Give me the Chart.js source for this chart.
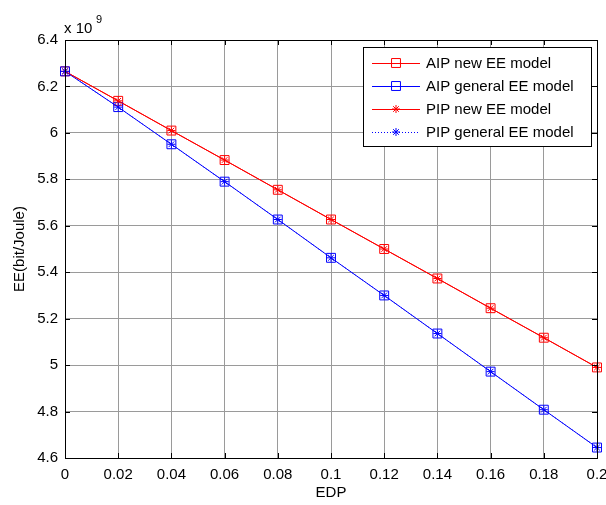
<!DOCTYPE html>
<html>
<head>
<meta charset="utf-8">
<script src="https://cdn.jsdelivr.net/npm/chart.js@4/dist/chart.umd.min.js"></script>
<style>
html,body{margin:0;padding:0;background:#fff;}
#wrap{width:606px;height:505px;position:relative;}
</style>
</head>
<body>
<div id="wrap"><canvas id="c" width="606" height="505"></canvas></div>
<script>
// ---- data ----
const edp = [0, 0.02, 0.04, 0.06, 0.08, 0.10, 0.12, 0.14, 0.16, 0.18, 0.20];
const aipNewEE = [6.265, 6.138, 6.010, 5.883, 5.755, 5.627, 5.500, 5.373, 5.245, 5.118, 4.990];
const aipGeneralEE = [6.265, 6.111, 5.951, 5.790, 5.627, 5.462, 5.300, 5.136, 4.972, 4.808, 4.645];
const pipNewEE = [6.265, 6.138, 6.010, 5.883, 5.755, 5.627, 5.500, 5.373, 5.245, 5.118, 4.990];
const pipGeneralEE = [6.265, 6.111, 5.951, 5.790, 5.627, 5.462, 5.300, 5.136, 4.972, 4.808, 4.645];
const seriesNames = ['AIP new EE model', 'AIP general EE model', 'PIP new EE model', 'PIP general EE model'];
const xTicks = [0, 0.02, 0.04, 0.06, 0.08, 0.1, 0.12, 0.14, 0.16, 0.18, 0.2];
const yTicks = [4.6, 4.8, 5.0, 5.2, 5.4, 5.6, 5.8, 6.0, 6.2, 6.4];
const xTitle = 'EDP';
const yTitle = 'EE(bit/Joule)';

const FONT = '"Liberation Sans", Arial, sans-serif';
const toPts = ys => edp.map((x, i) => ({x: x, y: ys[i]}));

const styles = [
  {color: '#ff0000', line: '#ff0000', ps: 'rect', r: 6.3, dash: []},
  {color: '#0000ff', line: '#0000ff', ps: 'rect', r: 6.3, dash: []},
  {color: '#ff0000', line: '#ff0000', ps: 'star', r: 4, dash: []},
  {color: '#0000ff', line: '#0000ff', ps: 'star', r: 4, dash: [1, 2]}
];
const allSeries = [aipNewEE, aipGeneralEE, pipNewEE, pipGeneralEE];

const datasets = allSeries.map((ys, i) => ({
  label: seriesNames[i],
  data: toPts(ys),
  showLine: true,
  borderColor: styles[i].line,
  borderWidth: 1,
  borderDash: styles[i].dash,
  pointStyle: styles[i].ps,
  pointRadius: styles[i].r,
  pointBorderColor: styles[i].color,
  pointBackgroundColor: 'rgba(0,0,0,0)',
  pointBorderWidth: 1,
  clip: false,
  order: 4 - i
}));

const framePlugin = {
  id: 'frame',
  afterDraw(chart) {
    const ctx = chart.ctx;
    const a = chart.chartArea;
    const xs = chart.scales.x, ys = chart.scales.y;
    ctx.save();
    // frame
    ctx.strokeStyle = '#000';
    ctx.lineWidth = 1;
    ctx.strokeRect(Math.round(a.left) + 0.5, Math.round(a.top) + 0.5, Math.round(a.right - a.left), Math.round(a.bottom - a.top));
    // inward ticks
    const tl = 5;
    ctx.beginPath();
    xTicks.forEach(v => {
      const px = Math.round(xs.getPixelForValue(v)) + 0.5;
      ctx.moveTo(px, a.bottom); ctx.lineTo(px, a.bottom - tl);
      ctx.moveTo(px, a.top); ctx.lineTo(px, a.top + tl);
    });
    yTicks.forEach(v => {
      const py = Math.round(ys.getPixelForValue(v)) + 0.5;
      ctx.moveTo(a.left, py); ctx.lineTo(a.left + tl, py);
      ctx.moveTo(a.right, py); ctx.lineTo(a.right - tl, py);
    });
    ctx.stroke();

    // titles
    ctx.fillStyle = '#000';
    ctx.font = '15px ' + FONT;
    ctx.textAlign = 'center';
    ctx.textBaseline = 'middle';
    ctx.fillText(xTitle, (a.left + a.right) / 2, 493);
    ctx.save();
    ctx.translate(20, (a.top + a.bottom) / 2);
    ctx.rotate(-Math.PI / 2);
    ctx.fillText(yTitle, 0, 0);
    ctx.restore();

    // exponent label
    ctx.textAlign = 'left';
    ctx.textBaseline = 'alphabetic';
    ctx.font = '15px ' + FONT;
    ctx.fillText('x 10', 64, 33);
    ctx.font = '11px ' + FONT;
    ctx.fillText('9', 96, 23);

    // legend
    const lx = 363, ly = 47, lw = 228, lh = 99;
    ctx.fillStyle = '#fff';
    ctx.fillRect(lx, ly, lw, lh);
    ctx.strokeStyle = '#000';
    ctx.strokeRect(lx + 0.5, ly + 0.5, lw, lh);
    const rows = [63, 86, 109, 132];
    rows.forEach((ry, i) => {
      const s = styles[i];
      ctx.strokeStyle = s.line;
      ctx.lineWidth = 1;
      ctx.setLineDash(s.dash);
      ctx.beginPath();
      ctx.moveTo(372, ry + 0.5); ctx.lineTo(420, ry + 0.5);
      ctx.stroke();
      ctx.setLineDash([]);
      ctx.strokeStyle = s.color;
      ctx.fillStyle = 'rgba(0,0,0,0)';
      Chart.helpers.drawPoint(ctx, {pointStyle: s.ps, radius: s.r, rotation: 0, borderWidth: 1}, 396, ry);
      ctx.fillStyle = '#000';
      ctx.font = '15px ' + FONT;
      ctx.textAlign = 'left';
      ctx.textBaseline = 'middle';
      ctx.fillText(seriesNames[i], 426, ry + 1);
    });
    ctx.restore();
  }
};

new Chart(document.getElementById('c'), {
  type: 'scatter',
  data: {datasets: datasets},
  options: {
    responsive: false,
    animation: false,
    devicePixelRatio: 1,
    layout: {padding: {left: 0, top: 40, right: 9, bottom: 0}},
    plugins: {legend: {display: false}, tooltip: {enabled: false}},
    scales: {
      x: {
        type: 'linear', min: 0, max: 0.2,
        afterBuildTicks: s => { s.ticks = xTicks.map(v => ({value: v})); },
        afterFit: s => { s.height = 47; s.paddingLeft = 0; s.paddingRight = 0; },
        ticks: {
          color: '#000', font: {family: FONT, size: 15}, padding: 8, maxRotation: 0, autoSkip: false,
          callback: v => Number(v.toFixed(2)).toString()
        },
        grid: {color: '#9a9a9a', lineWidth: 1, drawTicks: false, tickLength: 0},
        border: {display: false}
      },
      y: {
        type: 'linear', min: 4.6, max: 6.4,
        afterBuildTicks: s => { s.ticks = yTicks.map(v => ({value: v})); },
        afterFit: s => { s.width = 65; s.paddingTop = 0; s.paddingBottom = 0; },
        ticks: {
          color: '#000', font: {family: FONT, size: 15}, padding: 7, autoSkip: false,
          callback: v => Number(v.toFixed(1)).toString()
        },
        grid: {color: '#9a9a9a', lineWidth: 1, drawTicks: false, tickLength: 0},
        border: {display: false}
      }
    }
  },
  plugins: [framePlugin]
});
</script>
</body>
</html>
